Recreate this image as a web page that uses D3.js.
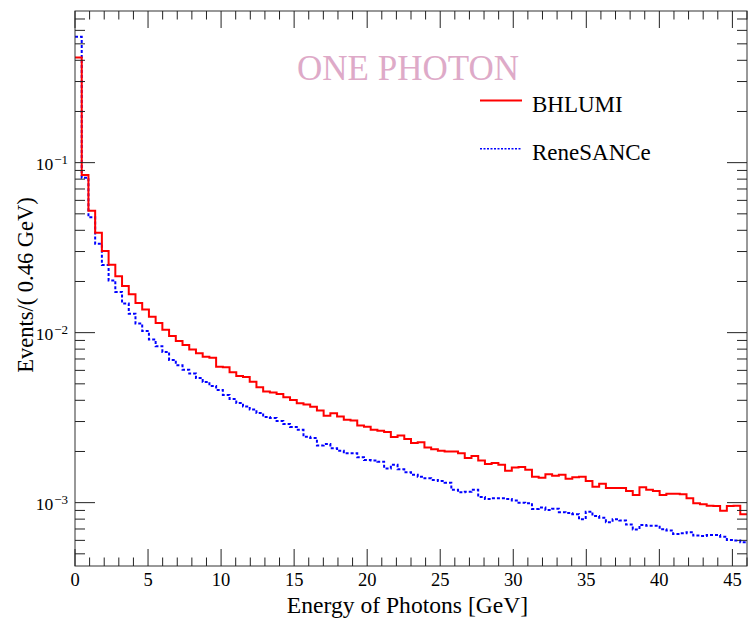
<!DOCTYPE html>
<html><head><meta charset="utf-8">
<script src="https://cdn.jsdelivr.net/npm/d3@7/dist/d3.min.js"></script>
<style>
body{margin:0;background:#fff;}
text{font-family:"Liberation Serif","Times New Roman",serif;fill:#000;}
</style>
</head><body>
<svg id="c" width="748" height="621"></svg>
<script>
// ---- data ----
const binWidth = 0.46;   // GeV
const nBins = 100;
const bhlumi = [
0.415, 0.0847, 0.0522, 0.0387, 0.0302, 0.0251, 0.0215, 0.0188, 0.0168, 0.01495,
0.0137, 0.0124, 0.0114, 0.0104, 0.00956, 0.00894, 0.00847, 0.00797, 0.00756, 0.00722,
0.00713, 0.00631, 0.00626, 0.00585, 0.00556, 0.00549, 0.00515, 0.00477, 0.00450, 0.00445,
0.00436, 0.00417, 0.00402, 0.00384, 0.00378, 0.00367, 0.00348, 0.00324, 0.00336, 0.00321,
0.00307, 0.00304, 0.00284, 0.00280, 0.00268, 0.00265, 0.00260, 0.00243, 0.00248, 0.00237,
0.00224, 0.00227, 0.00211, 0.00206, 0.00202, 0.00200, 0.00200, 0.00195, 0.00183, 0.00188,
0.00177, 0.00169, 0.00171, 0.00167, 0.00154, 0.00161, 0.00162, 0.00156, 0.00142, 0.00140,
0.00147, 0.00144, 0.00146, 0.00138, 0.00141, 0.00142, 0.00134, 0.00124, 0.00129, 0.00122,
0.00122, 0.00122, 0.00117, 0.00111, 0.00123, 0.00119, 0.00117, 0.00111, 0.00113, 0.00113,
0.00112, 0.00106, 0.000992, 0.000979, 0.000960, 0.000956, 0.000897, 0.000956, 0.000960, 0.000855
];
const renesance = [
0.551, 0.0816, 0.0477, 0.0333, 0.0250, 0.0203, 0.01735, 0.01485, 0.01294, 0.01133,
0.01023, 0.00912, 0.00832, 0.00770, 0.00691, 0.00643, 0.00606, 0.00575, 0.00541, 0.00513,
0.00486, 0.00460, 0.00430, 0.00407, 0.00386, 0.00368, 0.00353, 0.00337, 0.00319, 0.00315,
0.00302, 0.00290, 0.00279, 0.00268, 0.00244, 0.00240, 0.00217, 0.00221, 0.00209, 0.00202,
0.00195, 0.00195, 0.00185, 0.00178, 0.00177, 0.00174, 0.00159, 0.00167, 0.00157, 0.00151,
0.00146, 0.00142, 0.00139, 0.00136, 0.00134, 0.00131, 0.00119, 0.00115, 0.00116, 0.00119,
0.00108, 0.00105, 0.00106, 0.00106, 0.00105, 0.00103, 0.00100, 0.000992, 0.000918, 0.000935,
0.000906, 0.000921, 0.000879, 0.000870, 0.000856, 0.000799, 0.000885, 0.000835, 0.000815, 0.000768,
0.000799, 0.000786, 0.000744, 0.000696, 0.000739, 0.000732, 0.000732, 0.000698, 0.000685, 0.000655,
0.000661, 0.000670, 0.000640, 0.000637, 0.000646, 0.000646, 0.000631, 0.000603, 0.000598, 0.000585
];
const seriesNames = ["BHLUMI", "ReneSANCe"];
const xTickValues = [0, 5, 10, 15, 20, 25, 30, 35, 40, 45];
const xTickLabels = ["0", "5", "10", "15", "20", "25", "30", "35", "40", "45"];
const yTickValues = [1e-3, 1e-2, 1e-1];
const yTickExponents = ["\u22123", "\u22122", "\u22121"];
const titleText = "ONE PHOTON";
const xTitle = "Energy of Photons [GeV]";
const yTitle = "Events/( 0.46 GeV)";

// ---- layout ----
const L = 75, R = 747, T = 11, B = 566;
const svg = d3.select("#c");
const x = d3.scaleLinear().domain([0, nBins * binWidth]).range([L, R]);
const y = d3.scaleLog().domain([4.24e-4, 0.78]).range([B, T]);

svg.append("defs").append("clipPath").attr("id", "clip")
  .append("rect").attr("x", L).attr("y", T).attr("width", R - L).attr("height", B - T);

// histograms
function stepPoints(vals) {
  const pts = vals.map((v, i) => [i * binWidth, v]);
  pts.push([vals.length * binWidth, vals[vals.length - 1]]);
  return pts;
}
const line = d3.line().x(d => x(d[0])).y(d => y(d[1])).curve(d3.curveStepAfter);
const g = svg.append("g").attr("clip-path", "url(#clip)");
g.append("path").attr("d", line(stepPoints(renesance)))
  .attr("fill", "none").attr("stroke", "#0000ff").attr("stroke-width", 2)
  .attr("stroke-dasharray", "3,2");
g.append("path").attr("d", line(stepPoints(bhlumi)))
  .attr("fill", "none").attr("stroke", "#ff0000").attr("stroke-width", 2);

// frame
svg.append("rect").attr("x", L).attr("y", T).attr("width", R - L).attr("height", B - T)
  .attr("fill", "none").attr("stroke", "#333").attr("stroke-width", 1);

// x ticks
const ax = svg.append("g").attr("stroke", "#222").attr("stroke-width", 1);
d3.range(0, 47).forEach(v => {
  const major = v % 5 === 0;
  const len = major ? 17 : 8.5;
  const px = x(v);
  ax.append("line").attr("x1", px).attr("x2", px).attr("y1", B).attr("y2", B - len);
  ax.append("line").attr("x1", px).attr("x2", px).attr("y1", T).attr("y2", T + len);
});
// y ticks
const yDom = y.domain();
for (let d = -4; d <= -1; d++) {
  for (let m = 1; m <= 9; m++) {
    const v = m * Math.pow(10, d);
    if (v < yDom[0] || v > yDom[1]) continue;
    const len = m === 1 ? 20 : 10;
    const py = y(v);
    ax.append("line").attr("x1", L).attr("x2", L + len).attr("y1", py).attr("y2", py);
    ax.append("line").attr("x1", R).attr("x2", R - len).attr("y1", py).attr("y2", py);
  }
}

// x tick labels
xTickValues.forEach((v, i) => {
  svg.append("text").attr("x", x(v)).attr("y", 586).attr("text-anchor", "middle")
    .attr("font-size", 18.5).text(xTickLabels[i]);
});
// y tick labels
yTickValues.forEach((v, i) => {
  const t = svg.append("text").attr("x", 68).attr("y", y(v) + 7.5).attr("text-anchor", "end")
    .attr("font-size", 17.5);
  t.append("tspan").text("10");
  t.append("tspan").attr("font-size", 13).attr("dy", -6.5).attr("dx", 1).text(yTickExponents[i]);
});

// axis titles
svg.append("text").attr("x", 407.5).attr("y", 613).attr("text-anchor", "middle")
  .attr("font-size", 23.6).text(xTitle);
svg.append("text").attr("transform", "translate(32.5,285) rotate(-90)")
  .attr("text-anchor", "middle").attr("font-size", 22.5).text(yTitle);

// title
svg.append("text").attr("x", 408).attr("y", 79.5).attr("text-anchor", "middle")
  .attr("font-size", 35).style("fill", "#deaac8").text(titleText);

// legend
const leg = [
  {name: seriesNames[0], color: "#ff0000", dash: null, w: 1.8, ly: 100.5, ty: 112},
  {name: seriesNames[1], color: "#0000ff", dash: "2,1.5", w: 1.5, ly: 148.7, ty: 160}
];
leg.forEach(d => {
  const l = svg.append("line").attr("x1", 480).attr("x2", 522).attr("y1", d.ly).attr("y2", d.ly)
    .attr("stroke", d.color).attr("stroke-width", d.w);
  if (d.dash) l.attr("stroke-dasharray", d.dash);
  svg.append("text").attr("x", 532).attr("y", d.ty).attr("font-size", 23).text(d.name);
});
</script>
</body></html>
